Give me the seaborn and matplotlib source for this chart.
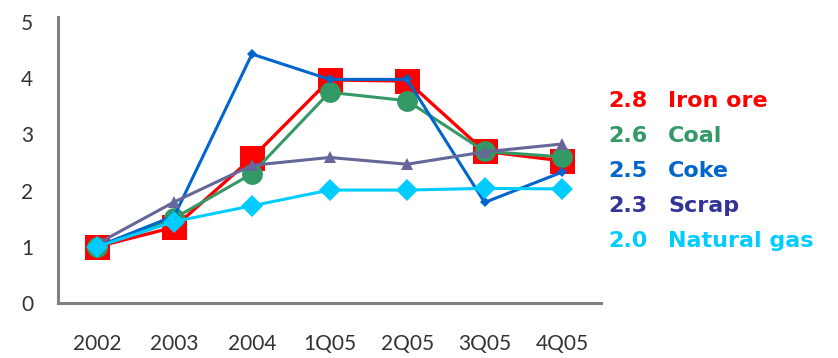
import matplotlib
matplotlib.use("Agg")
import matplotlib.pyplot as plt
import seaborn as sns
import pandas as pd

# Periods on the x axis
periods = ["2002", "2003", "2004", "1Q05", "2Q05", "3Q05", "4Q05"]

# Price index per input (2002 = 1)
iron_ore = [1.0, 1.35, 2.58, 3.97, 3.95, 2.70, 2.53]
coal = [1.0, 1.51, 2.30, 3.75, 3.60, 2.70, 2.60]
coke = [1.0, 1.55, 4.43, 3.98, 3.98, 1.79, 2.33]
scrap = [1.05, 1.80, 2.45, 2.59, 2.47, 2.69, 2.83]
natural_gas = [1.0, 1.45, 1.73, 2.01, 2.01, 2.04, 2.03]

series_names = ["Iron ore", "Coal", "Coke", "Scrap", "Natural gas"]
series_values = [iron_ore, coal, coke, scrap, natural_gas]
label_values = [2.8, 2.6, 2.5, 2.3, 2.0]

line_colors = ["#FF0000", "#339966", "#0066CC", "#666699", "#00CCFF"]
text_colors = ["#FF0000", "#339966", "#0066CC", "#333399", "#00CCFF"]
markers = ["s", "o", "D", "^", "D"]
marker_sizes = [18, 15, 5, 8.5, 11.2]
line_widths = [2.4, 2.2, 2.2, 2.2, 2.2]

sns.set_style("white")
plt.rcParams["font.family"] = ["Lato", "DejaVu Sans"]

W, H = 838, 358
fig = plt.figure(figsize=(W / 100, H / 100), dpi=100)
ax = fig.add_axes([58 / W, 1 - 303 / H, (601 - 58) / W, (303 - 17) / H])

pos = list(range(len(periods)))
for name, vals, lc, mk, ms, lw in zip(series_names, series_values, line_colors,
                                      markers, marker_sizes, line_widths):
    df = pd.DataFrame({"pos": pos, "value": vals})
    sns.lineplot(data=df, x="pos", y="value", color=lc, marker=mk,
                 markersize=ms, markeredgewidth=0, linewidth=lw,
                 ax=ax, legend=False, sort=False)

ax.set_xlim(-0.5, 6.5)
ax.set_ylim(0, 5.09)
ax.set_yticks([0, 1, 2, 3, 4, 5])
ax.set_xticks(pos)
ax.set_xticklabels(periods)
ax.set_xlabel("")
ax.set_ylabel("")
ax.tick_params(axis="both", length=0, labelsize=15, colors="#333333")
ax.tick_params(axis="y", pad=18)
ax.tick_params(axis="x", pad=22)

for side in ["top", "right"]:
    ax.spines[side].set_visible(False)
for side in ["left", "bottom"]:
    ax.spines[side].set_color("#808080")
    ax.spines[side].set_linewidth(2.2)

# Value / name labels to the right of the plot
for i, (val, name, tc) in enumerate(zip(label_values, series_names, text_colors)):
    yb = 1 - (107 + 35 * i) / H
    fig.text(608 / W, yb, f"{val:.1f}", color=tc, fontsize=16,
             fontweight="bold", family="DejaVu Sans", va="baseline", ha="left")
    fig.text(668 / W, yb, name, color=tc, fontsize=16,
             fontweight="bold", family="DejaVu Sans", va="baseline", ha="left")

fig.savefig("out.png", dpi=100)
